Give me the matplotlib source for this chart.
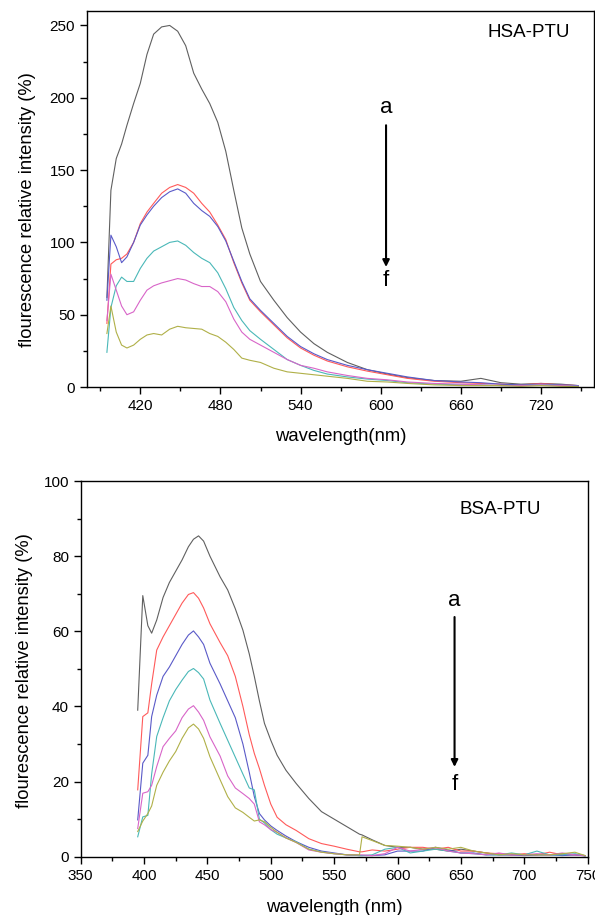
import numpy as np
import matplotlib
matplotlib.use("Agg")
import matplotlib.pyplot as plt
from matplotlib.ticker import MultipleLocator

plt.rcParams['font.family'] = ['Liberation Sans', 'DejaVu Sans']

# ---- HSA-PTU data (top panel) ----
hsa_wl = [395, 398, 402, 406, 410, 415, 420, 425, 430, 436, 442, 448, 454, 460,
          466, 472, 478, 484, 490, 496, 502, 510, 520, 530, 540, 550, 560, 575,
          590, 605, 620, 640, 660, 675, 690, 705, 720, 735, 748]
hsa_a = [62, 136, 158, 168, 181, 196, 210, 230, 244, 249, 250, 246, 236, 217,
         206, 196, 183, 163, 136, 110, 92, 73, 60, 48, 38, 30, 24, 17,
         12, 9, 6.5, 4.5, 4, 6, 3, 2, 2.5, 2, 1]
hsa_b = [44, 85, 88, 89, 92, 100, 113, 121, 127, 134, 138, 140, 138, 134,
         127, 121, 112, 102, 86, 72, 60, 52, 43, 34, 27, 22, 18, 14,
         11, 8.5, 6, 4, 3, 2.5, 2, 1.5, 2.5, 1.5, 1]
hsa_c = [60, 105, 97, 86, 90, 100, 112, 119, 125, 131, 135, 137, 134, 127,
         122, 118, 111, 101, 87, 73, 61, 53, 44, 35, 28, 23, 19, 15,
         12, 9.5, 7, 4.5, 3.5, 3, 2, 1.5, 2, 1.5, 1]
hsa_d = [24, 55, 70, 76, 73, 73, 82, 89, 94, 97, 100, 101, 98, 93,
         89, 86, 79, 68, 55, 46, 39, 33, 26, 19, 15, 11.5, 9, 7,
         5.5, 4.5, 3, 2, 1.5, 1.5, 1, 1, 1.5, 1, 0.5]
hsa_e = [46, 78, 67, 56, 50, 52, 60, 67, 70, 72, 73.5, 75, 74, 71.5,
         69.5, 69.5, 66, 59, 47, 38, 33, 29, 24, 19, 15, 13, 10.5, 8,
         6, 5, 3.5, 2.5, 2, 1.5, 1, 1, 1.5, 1, 0.5]
hsa_f = [37, 56, 38, 29, 27, 29, 33, 36, 37, 36, 40, 42, 41, 40.5,
         40, 37, 35, 31, 26, 20, 18.5, 17, 13, 10.5, 9.5, 8.5, 7.5, 6,
         4, 3.5, 2.5, 1.5, 1, 1, 1, 0.5, 1, 0.5, 0.3]

# ---- BSA-PTU data (bottom panel) ----
bsa_wl = [395, 399, 403, 406, 410, 415, 420, 425, 430, 435, 439, 443, 447, 452,
          460, 466, 472, 478, 483, 487, 491, 495, 500, 505, 512, 520, 530, 540,
          550, 560, 570, 572, 580, 590, 600, 610, 620, 630, 640, 650, 660, 670,
          680, 690, 700, 710, 720, 730, 740, 748]
bsa_a = [39, 69.5, 61.5, 59.5, 63, 69, 73, 76, 79, 82.5, 84.5, 85.4, 84, 80,
         74.5, 71, 66, 60.3, 54, 48, 41.5, 35.5, 31, 27, 23, 19.5, 15.5, 12,
         10, 8, 6, 5.8, 4.5, 3, 2.5, 2.5, 2, 2, 1.5, 2, 1.5, 1,
         0.5, 0.5, 0.5, 0.5, 0.5, 0.8, 0.5, 0.3]
bsa_b = [17.8, 37.3, 38.3, 46, 55, 58.5, 61.5, 64.5, 67.5, 69.8, 70.3, 68.8, 66.2, 62,
         57, 53.5, 48, 40, 32.5, 27.5, 23.5, 19, 14, 10.5, 8.5, 7, 4.8, 3.5,
         2.8, 2, 1.3, 1.3, 1.8, 1.5, 2, 2.5, 2.5, 2, 2.5, 1.5, 1.5, 1,
         0.8, 0.5, 0.8, 0.5, 1.2, 0.5, 0.5, 0.3]
bsa_c = [9.8, 24.9, 27, 37.3, 43, 48, 50.5, 53.5, 56.5, 59, 60.1, 58.5, 56.5, 51.5,
         46, 41.5, 37, 30, 22.5, 16, 11.5, 9.8, 8.2, 7, 5.5, 4, 2.5, 1.5,
         1, 0.5, 0.3, 0.3, 0.3, 0.5, 1.5, 1.5, 1.5, 2.5, 1.8, 1, 1, 0.5,
         0.5, 0.5, 0.3, 0.5, 0.5, 0.3, 0.5, 0.2]
bsa_d = [5.3, 10.6, 11, 22, 32, 37, 41.5, 44.5, 47, 49.3, 50.1, 49, 47.3, 41.7,
         35.5, 31, 26.5, 22, 18.3, 17.8, 10, 9, 7.2, 6, 5, 4, 2, 1.3,
         0.8, 0.5, 0.3, 0.3, 0.5, 2, 2.5, 1, 1.5, 2, 1.5, 1, 0.8, 0.5,
         0.5, 1, 0.5, 1.5, 0.5, 0.5, 0.8, 0.3]
bsa_e = [7.5, 16.9, 17.3, 19, 24, 29.3, 31.5, 33.5, 37, 39.3, 40.2, 38.5, 36.3, 31.9,
         26.8, 21.5, 18.3, 16.8, 15.5, 14, 9.3, 8.5, 7.2, 6.5, 5, 3.8, 1.8, 1.2,
         0.8, 0.5, 0.5, 0.5, 0.3, 0.8, 2.5, 1.5, 2, 2.5, 1.5, 1, 0.8, 0.5,
         1, 0.5, 0.5, 0.8, 0.5, 1, 0.5, 0.3]
bsa_f = [6.7, 9.5, 11.5, 13.5, 19, 22.5, 25.5, 28, 31.5, 34.3, 35.3, 34, 31.5, 26.6,
         20.5, 16, 13, 11.8, 10.5, 9.5, 9.8, 9.3, 7.8, 6.5, 5, 3.8, 2, 1.2,
         0.8, 0.5, 0.5, 5.3, 4.3, 3, 2.8, 2.5, 2, 2.5, 2, 2.5, 1.5, 1,
         0.5, 0.8, 0.5, 0.5, 0.5, 0.8, 1.2, 0.3]

colors = ['#606060', '#ff5a5a', '#5a5ac8', '#4ab8b8', '#d865c8', '#b0b048']


def style_axes(ax):
    for s in ax.spines.values():
        s.set_linewidth(1.0)
    ax.tick_params(which='both', direction='out', top=False, right=False,
                   labelsize=11, width=1.0)
    ax.tick_params(which='major', length=5)
    ax.tick_params(which='minor', length=3)


def arrow_a_f(ax, x, y_a, y_top, y_bot, y_f):
    ax.text(x, y_a, 'a', ha='center', va='center', fontsize=16)
    ax.annotate('', xy=(x, y_bot), xytext=(x, y_top),
                arrowprops=dict(arrowstyle='-|>', color='black', lw=1.5,
                                mutation_scale=10, shrinkA=0, shrinkB=0))
    ax.text(x, y_f, 'f', ha='center', va='center', fontsize=16)


fig = plt.figure(figsize=(5.95, 9.15), dpi=100)

# top panel
ax1 = fig.add_axes([0.146, 0.577, 0.853, 0.411])
for ys, c in zip([hsa_a, hsa_b, hsa_c, hsa_d, hsa_e, hsa_f], colors):
    ax1.plot(hsa_wl, ys, color=c, lw=0.8)
ax1.set_xlim(380, 760)
ax1.set_ylim(0, 260)
ax1.xaxis.set_minor_locator(MultipleLocator(30))
ax1.set_xticks([420, 480, 540, 600, 660, 720])
ax1.yaxis.set_major_locator(MultipleLocator(50))
ax1.yaxis.set_minor_locator(MultipleLocator(25))
style_axes(ax1)
ax1.set_xlabel('wavelength(nm)', fontsize=13.3, labelpad=11)
ax1.set_ylabel('flourescence relative intensity (%)', fontsize=13.2)
ax1.yaxis.set_label_coords(-0.100, 0.471)
ax1.text(711, 245, 'HSA-PTU', ha='center', va='center', fontsize=13.5)
arrow_a_f(ax1, 604, 193, 181, 83, 74)

# bottom panel
ax2 = fig.add_axes([0.1356, 0.0637, 0.852, 0.4106])
for ys, c in zip([bsa_a, bsa_b, bsa_c, bsa_d, bsa_e, bsa_f], colors):
    ax2.plot(bsa_wl, ys, color=c, lw=0.8)
ax2.set_xlim(350, 750)
ax2.set_ylim(0, 100)
ax2.xaxis.set_major_locator(MultipleLocator(50))
ax2.xaxis.set_minor_locator(MultipleLocator(25))
ax2.yaxis.set_major_locator(MultipleLocator(20))
ax2.yaxis.set_minor_locator(MultipleLocator(10))
style_axes(ax2)
ax2.set_xlabel('wavelength (nm)', fontsize=13.3, labelpad=12)
ax2.set_ylabel('flourescence relative intensity (%)', fontsize=13.2)
ax2.yaxis.set_label_coords(-0.094, 0.496)
ax2.text(681, 92.3, 'BSA-PTU', ha='center', va='center', fontsize=13.5)
arrow_a_f(ax2, 645, 68.3, 63.8, 23.9, 19.1)

fig.savefig('out.png', dpi=100)
